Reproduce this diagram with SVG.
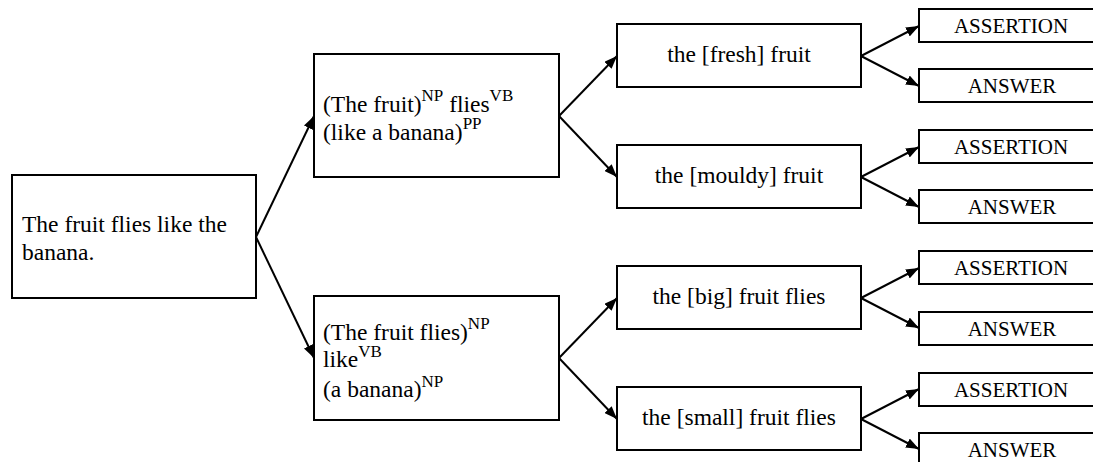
<svg xmlns="http://www.w3.org/2000/svg" width="1093" height="462" viewBox="0 0 1093 462">
<style>
.box{fill:#fff;stroke:#000;stroke-width:2}
text{font-family:'Liberation Serif','Times New Roman',Times,'DejaVu Serif',serif;fill:#000}
.t{font-size:23.5px}
.c{text-anchor:middle}
.s{font-size:21px;text-anchor:middle}
.sup{font-size:17px}
.e{fill:none;stroke:#000;stroke-width:2;marker-end:url(#ah)}
</style>
<defs>
<marker id="ah" markerUnits="userSpaceOnUse" markerWidth="14" markerHeight="10" refX="13" refY="5" orient="auto">
<path d="M0,0 L13,5 L0,10 z" fill="#000"/>
</marker>
</defs>
<rect width="1093" height="462" fill="#fff"/>
<g id="connectors">
<path class="e" d="M256,237 L314,116"/>
<path class="e" d="M256,237 L314,358"/>
<path class="e" d="M559,116 L617,56"/>
<path class="e" d="M559,116 L617,177"/>
<path class="e" d="M559,358 L617,298"/>
<path class="e" d="M559,358 L617,419"/>
<path class="e" d="M861,56 L919,26"/>
<path class="e" d="M861,56 L919,86"/>
<path class="e" d="M861,177 L919,147"/>
<path class="e" d="M861,177 L919,207"/>
<path class="e" d="M861,298 L919,268"/>
<path class="e" d="M861,298 L919,328"/>
<path class="e" d="M861,419 L919,389"/>
<path class="e" d="M861,419 L919,449"/>
</g>
<g id="root">
<rect class="box" x="12" y="175" width="244" height="123"/>
<text class="t" x="22" y="232" font-family="Liberation Serif, serif">The fruit flies like the</text>
<text class="t" x="22" y="260" font-family="Liberation Serif, serif">banana.</text>
</g>
<g id="parse1">
<rect class="box" x="314" y="54" width="245" height="123"/>
<text class="t" x="323" y="112">(The fruit)<tspan class="sup" dy="-11">NP</tspan><tspan dy="11"> flies</tspan><tspan class="sup" dy="-11">VB</tspan></text>
<text class="t" x="323" y="140">(like a banana)<tspan class="sup" dy="-11">PP</tspan></text>
</g>
<g id="parse2">
<rect class="box" x="314" y="296" width="245" height="124"/>
<text class="t" x="323" y="340">(The fruit flies)<tspan class="sup" dy="-11">NP</tspan></text>
<text class="t" x="323" y="367">like<tspan class="sup" dy="-10">VB</tspan></text>
<text class="t" x="323" y="397">(a banana)<tspan class="sup" dy="-10">NP</tspan></text>
</g>
<g id="fresh">
<rect class="box" x="617" y="24" width="244" height="63"/>
<text class="t c" x="739" y="62">the [fresh] fruit</text>
</g>
<g id="mouldy">
<rect class="box" x="617" y="145" width="244" height="63"/>
<text class="t c" x="739" y="183">the [mouldy] fruit</text>
</g>
<g id="big">
<rect class="box" x="617" y="266" width="244" height="63"/>
<text class="t c" x="739" y="304">the [big] fruit flies</text>
</g>
<g id="small">
<rect class="box" x="617" y="387" width="244" height="63"/>
<text class="t c" x="739" y="425">the [small] fruit flies</text>
</g>
<g id="assertion1"><rect class="box" x="919" y="9" width="190" height="33"/><text class="s" x="1011" y="33">ASSERTION</text></g>
<g id="answer1"><rect class="box" x="919" y="69" width="190" height="33"/><text class="s" x="1012" y="93">ANSWER</text></g>
<g id="assertion2"><rect class="box" x="919" y="130" width="190" height="33"/><text class="s" x="1011" y="154">ASSERTION</text></g>
<g id="answer2"><rect class="box" x="919" y="190" width="190" height="33"/><text class="s" x="1012" y="214">ANSWER</text></g>
<g id="assertion3"><rect class="box" x="919" y="251" width="190" height="33"/><text class="s" x="1011" y="275">ASSERTION</text></g>
<g id="answer3"><rect class="box" x="919" y="312" width="190" height="33"/><text class="s" x="1012" y="336">ANSWER</text></g>
<g id="assertion4"><rect class="box" x="919" y="373" width="190" height="33"/><text class="s" x="1011" y="397">ASSERTION</text></g>
<g id="answer4"><rect class="box" x="919" y="433" width="190" height="33"/><text class="s" x="1012" y="457">ANSWER</text></g>
</svg>
